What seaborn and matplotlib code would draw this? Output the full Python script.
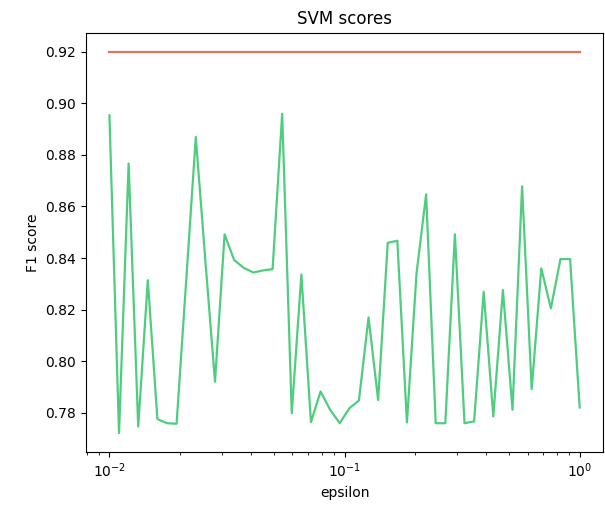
import numpy as np
import pandas as pd
import matplotlib
matplotlib.use("Agg")
import matplotlib.pyplot as plt
import seaborn as sns

epsilon = np.logspace(-2, 0, 50)
f1_scores = [
    0.8953, 0.7722, 0.8766, 0.7747, 0.8314, 0.7776, 0.7760, 0.7758, 0.8313, 0.8869,
    0.8388, 0.7921, 0.8492, 0.8392, 0.8362, 0.8344, 0.8352, 0.8357, 0.8959, 0.7799,
    0.8336, 0.7764, 0.7883, 0.7812, 0.7760, 0.7818, 0.7848, 0.8170, 0.7850, 0.8459,
    0.8467, 0.7763, 0.8340, 0.8647, 0.7760, 0.7760, 0.8492, 0.7760, 0.7767, 0.8269,
    0.7786, 0.8276, 0.7812, 0.8678, 0.7892, 0.8360, 0.8205, 0.8396, 0.8396, 0.7821,
]
baseline = [0.92] * len(epsilon)

df = pd.DataFrame({"epsilon": epsilon, "score": f1_scores, "baseline": baseline})

fig = plt.figure(figsize=(6.05, 5.12), dpi=100)
ax = fig.add_axes([0.142, 0.117, 0.855, 0.8195])

sns.lineplot(data=df, x="epsilon", y="baseline", color="#df7460", linewidth=1.6, ax=ax)
sns.lineplot(data=df, x="epsilon", y="score", color="#4fcd7e", linewidth=1.6, ax=ax)
ax.set_xscale("log")
ax.set_title("SVM scores")
ax.set_xlabel("epsilon")
ax.set_ylabel("F1 score")
ax.set_yticks([0.78, 0.80, 0.82, 0.84, 0.86, 0.88, 0.90, 0.92])

fig.savefig("out.png", dpi=100)
